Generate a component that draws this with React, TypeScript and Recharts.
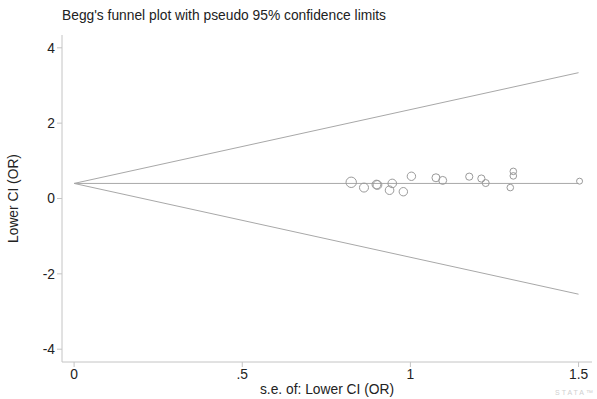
import React from 'react';
import { ComposedChart, Line, Scatter, XAxis, YAxis } from 'recharts';

// Study standard errors (x) and Lower CI (OR) effect estimates (y)
const seValues = [0.824, 0.862, 0.899, 0.902, 0.946, 0.938, 0.979, 1.003, 1.076, 1.096, 1.175, 1.211, 1.224, 1.306, 1.306, 1.297, 1.503];
const lowerCI = [0.43, 0.29, 0.37, 0.36, 0.40, 0.22, 0.18, 0.59, 0.55, 0.48, 0.58, 0.53, 0.41, 0.72, 0.60, 0.29, 0.46];
const markerRadius = [5.2, 4.5, 4.4, 4.4, 4.3, 4.3, 4.2, 4.2, 4.0, 4.0, 3.6, 3.6, 3.5, 3.3, 3.3, 3.3, 3.0];

const pooledEstimate = 0.4;
const seLimits = [0, 1.5];
const xTicks = [0, 0.5, 1, 1.5];
const yTicks = [-4, -2, 0, 2, 4];

const points = seValues.map((x, i) => ({ x, y: lowerCI[i], r: markerRadius[i] }));
const centerLine = seLimits.map((x) => ({ x, y: pooledEstimate }));
const upperLine = seLimits.map((x) => ({ x, y: pooledEstimate + 1.96 * x }));
const lowerLine = seLimits.map((x) => ({ x, y: pooledEstimate - 1.96 * x }));

const FONT = '"Liberation Sans", Arial, sans-serif';
const AXIS_COLOR = '#c4c4c4';
const LINE_COLOR = '#a8a8a8';
const FS = 13.8;

const fmtX = (v: number) => (v === 0 ? '0' : v === 1 ? '1' : v === 1.5 ? '1.5' : v === 0.5 ? '.5' : String(v));

const HollowCircle = (props: any) => {
  const { cx, cy, payload } = props;
  if (cx == null || cy == null) return null;
  return <circle cx={cx} cy={cy} r={payload.r} fill="none" stroke="#9a9a9a" strokeWidth={1} />;
};

const YLabel = (props: any) => {
  const vb = props.viewBox || {};
  const cy = (vb.y ?? 0) + (vb.height ?? 0) / 2;
  const cx = 13;
  return (
    <text x={cx} y={cy} transform={`rotate(-90, ${cx}, ${cy})`} textAnchor="middle" dominantBaseline="central"
      fontFamily={FONT} fontSize={FS} fill="#222">
      Lower CI (OR)
    </text>
  );
};

export default function App() {
  return (
    <div style={{ position: 'absolute', left: 0, top: 0, width: 597, height: 399, background: '#fff' }}>
      <div style={{ position: 'absolute', left: 62, top: 8, fontFamily: FONT, fontSize: FS, color: '#222', whiteSpace: 'nowrap' }}>
        Begg's funnel plot with pseudo 95% confidence limits
      </div>
      <ComposedChart width={597} height={399} margin={{ top: 35, right: 5, bottom: 0, left: 0 }}>
        <XAxis
          type="number"
          dataKey="x"
          domain={[-0.036, 1.54]}
          ticks={xTicks}
          tickFormatter={fmtX}
          allowDataOverflow
          height={37}
          stroke={AXIS_COLOR}
          tickSize={5}
          tick={{ fill: '#222', fontSize: FS, fontFamily: FONT }}
          label={{ value: 's.e. of: Lower CI (OR)', position: 'insideBottom', offset: 5, fill: '#222', fontSize: FS, fontFamily: FONT }}
        />
        <YAxis
          type="number"
          dataKey="y"
          domain={[-4.34, 4.34]}
          ticks={yTicks}
          allowDataOverflow
          width={62}
          stroke={AXIS_COLOR}
          tickSize={5}
          tick={{ fill: '#222', fontSize: FS, fontFamily: FONT }}
          label={<YLabel />}
        />
        <Line data={upperLine} dataKey="y" stroke={LINE_COLOR} strokeWidth={1} dot={false} isAnimationActive={false} />
        <Line data={centerLine} dataKey="y" stroke={LINE_COLOR} strokeWidth={1} dot={false} isAnimationActive={false} />
        <Line data={lowerLine} dataKey="y" stroke={LINE_COLOR} strokeWidth={1} dot={false} isAnimationActive={false} />
        <Scatter data={points} dataKey="y" shape={<HollowCircle />} isAnimationActive={false} />
      </ComposedChart>
      <div style={{ position: 'absolute', right: 2, top: 389, fontFamily: FONT, fontSize: 7, letterSpacing: 2, color: '#d0d0d0' }}>
        STATA™
      </div>
    </div>
  );
}
